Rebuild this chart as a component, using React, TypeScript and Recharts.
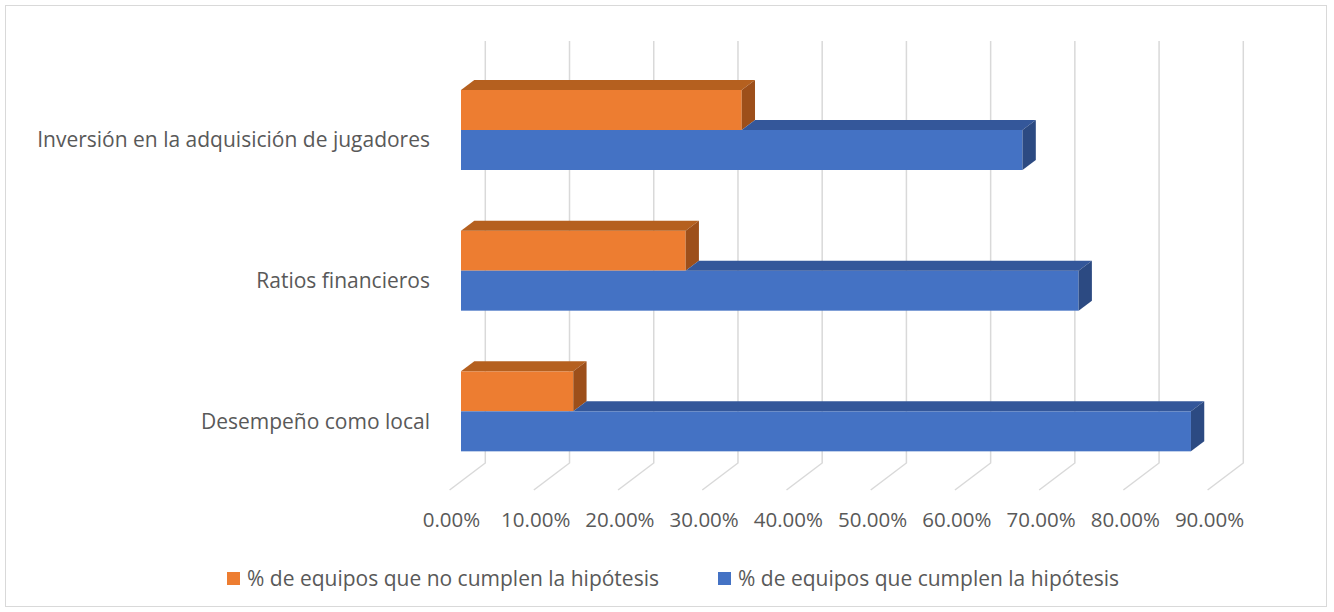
import { BarChart, Bar, XAxis, YAxis, CartesianGrid } from "recharts";

const categories = [
  "Inversión en la adquisición de jugadores",
  "Ratios financieros",
  "Desempeño como local",
];
const noCumplen = [0.3333, 0.2667, 0.1333];
const cumplen = [0.6667, 0.7333, 0.8667];
const xTicks = [0, 0.1, 0.2, 0.3, 0.4, 0.5, 0.6, 0.7, 0.8, 0.9];
const seriesNames = [
  "% de equipos que no cumplen la hipótesis",
  "% de equipos que cumplen la hipótesis",
];

const data = categories.map((name, i) => ({
  name,
  no: noCumplen[i],
  si: cumplen[i],
}));

const FONT = "'Open Sans', sans-serif";
const FS = 21;
const TICK_FS = 20.5;
const TEXT = "#595959";
const GRID = "#d9d9d9";
// oblique depth of the bars
const DX = 13.3;
const DY = 10;

const ORANGE = { front: "#ED7D31", top: "#B5601F", side: "#9D4F1A" };
const BLUE = { front: "#4472C4", top: "#34579A", side: "#2C4A82" };

function OrangeBar(props: any) {
  const { x, y, width, height } = props;
  if (width == null || width <= 0) return null;
  return (
    <g>
      <rect x={x} y={y} width={width} height={height} fill={ORANGE.front} />
      <polygon
        points={`${x},${y} ${x + DX},${y - DY} ${x + width + DX},${y - DY} ${x + width},${y}`}
        fill={ORANGE.top}
      />
      <polygon
        points={`${x + width},${y} ${x + width + DX},${y - DY} ${x + width + DX},${y + height - DY} ${x + width},${y + height}`}
        fill={ORANGE.side}
      />
    </g>
  );
}

function BlueBar(props: any) {
  const { x, y, width, height, payload } = props;
  if (width == null || width <= 0) return null;
  // the top face is hidden behind the orange bar, start it where orange ends
  const ow = (width * payload.no) / payload.si;
  return (
    <g>
      <rect x={x} y={y} width={width} height={height} fill={BLUE.front} />
      <polygon
        points={`${x + ow},${y} ${x + ow + DX},${y - DY} ${x + width + DX},${y - DY} ${x + width},${y}`}
        fill={BLUE.top}
      />
      <polygon
        points={`${x + width},${y} ${x + width + DX},${y - DY} ${x + width + DX},${y + height - DY} ${x + width},${y + height}`}
        fill={BLUE.side}
      />
    </g>
  );
}

function GridLine(props: any) {
  const { x1, y1, y2 } = props;
  const bx = x1 + 24.3;
  return (
    <g key={props.key}>
      <polyline
        points={`${bx},${y1 - 19} ${bx},${y2 - 19} ${x1 - 11.4},${y2 + 8}`}
        fill="none"
        stroke={GRID}
        strokeWidth={1.5}
      />
    </g>
  );
}

function XTick(props: any) {
  const { x, y, payload } = props;
  return (
    <text
      x={x - 9.5}
      y={y + 37}
      textAnchor="middle"
      dominantBaseline="central"
      fill={TEXT}
      fontSize={TICK_FS}
      fontFamily={FONT}
    >
      {(payload.value * 100).toFixed(2) + "%"}
    </text>
  );
}

function YTick(props: any) {
  const { y, payload } = props;
  return (
    <text
      x={430}
      y={y + 9}
      textAnchor="end"
      dominantBaseline="central"
      fill={TEXT}
      fontSize={FS}
      fontFamily={FONT}
    >
      {payload.value}
    </text>
  );
}

export default function App() {
  return (
    <div
      style={{
        position: "absolute",
        left: 0,
        top: 0,
        width: 1334,
        height: 612,
        background: "#fff",
        fontFamily: FONT,
      }}
    >
      <div
        style={{
          position: "absolute",
          left: 5,
          top: 5,
          width: 1320,
          height: 600,
          border: `1.5px solid ${GRID}`,
        }}
      />
      <div style={{ position: "absolute", left: 0, top: 0 }}>
        <BarChart
          width={1334}
          height={612}
          data={data}
          layout="vertical"
          margin={{ top: 60, right: 115, bottom: 100, left: 0 }}
          barSize={40}
          barGap={0}
        >
          <CartesianGrid horizontal={false} vertical={GridLine} />
          <XAxis
            type="number"
            domain={[0, 0.9]}
            ticks={xTicks}
            axisLine={false}
            tickLine={false}
            tickSize={0}
            tickMargin={0}
            height={30}
            tick={XTick}
            interval={0}
          />
          <YAxis
            type="category"
            dataKey="name"
            width={461}
            axisLine={false}
            tickLine={false}
            tick={YTick}
            interval={0}
          />
          <Bar dataKey="no" name={seriesNames[0]} shape={OrangeBar} isAnimationActive={false} />
          <Bar dataKey="si" name={seriesNames[1]} shape={BlueBar} isAnimationActive={false} />
        </BarChart>
      </div>
      {[
        { left: 227, color: ORANGE.front, label: seriesNames[0] },
        { left: 718, color: BLUE.front, label: seriesNames[1] },
      ].map((item) => (
        <div
          key={item.label}
          style={{
            position: "absolute",
            left: item.left,
            top: 565,
            height: 26,
            display: "flex",
            alignItems: "center",
            color: TEXT,
            fontSize: FS,
            whiteSpace: "nowrap",
          }}
        >
          <span
            style={{
              display: "inline-block",
              width: 13,
              height: 13,
              background: item.color,
              marginRight: 7,
            }}
          />
          {item.label}
        </div>
      ))}
    </div>
  );
}
